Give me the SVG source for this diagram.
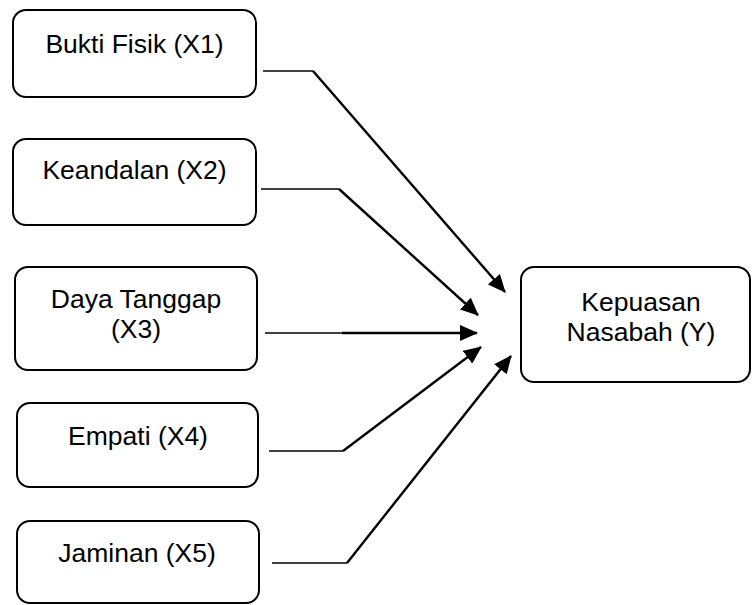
<svg xmlns="http://www.w3.org/2000/svg" width="752" height="605" viewBox="0 0 752 605">
<style>
.box{fill:#fff;stroke:#000;stroke-width:2}
.t{font-family:"Liberation Sans",Arial,sans-serif;font-size:26.5px;fill:#000;text-anchor:middle}
.h{fill:none;stroke:#000;stroke-width:1.4}
.d{fill:none;stroke:#000;stroke-width:2.4}
</style>
<defs>
<marker id="ah" viewBox="0 0 18 16" refX="17" refY="8" markerWidth="18" markerHeight="16" markerUnits="userSpaceOnUse" orient="auto" preserveAspectRatio="none">
<path d="M0,0 L18,8 L0,16 z" fill="#000"/>
</marker>
</defs>
<rect width="752" height="605" fill="#fff"/>
<g id="x1"><rect class="box" x="13" y="10" width="243" height="87" rx="13"/><text class="t" x="134.5" y="53">Bukti Fisik (X1)</text></g>
<g id="x2"><rect class="box" x="13" y="139" width="243" height="86" rx="13"/><text class="t" x="134.5" y="179">Keandalan (X2)</text></g>
<g id="x3"><rect class="box" x="15" y="267" width="242" height="103" rx="13"/><text class="t" x="136" y="308">Daya Tanggap</text><text class="t" x="136" y="338">(X3)</text></g>
<g id="x4"><rect class="box" x="17" y="403" width="241" height="84" rx="13"/><text class="t" x="138" y="445">Empati (X4)</text></g>
<g id="x5"><rect class="box" x="17" y="521" width="242" height="82" rx="13"/><text class="t" x="137" y="562">Jaminan (X5)</text></g>
<g id="y"><rect class="box" x="521" y="267" width="229" height="115" rx="13"/><text class="t" x="641" y="311">Kepuasan</text><text class="t" x="641" y="341">Nasabah (Y)</text></g>
<g id="connectors">
<path class="h" d="M263,71 H313"/><path class="d" d="M313,71 L505,292" marker-end="url(#ah)"/>
<path class="h" d="M261,189 H339"/><path class="d" d="M339,189 L478,315" marker-end="url(#ah)"/>
<path class="h" d="M265,333 H342"/><path class="d" d="M342,333 L477,333" marker-end="url(#ah)"/>
<path class="h" d="M269,451 H343"/><path class="d" d="M343,451 L481,347" marker-end="url(#ah)"/>
<path class="h" d="M272,563 H347"/><path class="d" d="M347,563 L511,356" marker-end="url(#ah)"/>
</g>
</svg>
